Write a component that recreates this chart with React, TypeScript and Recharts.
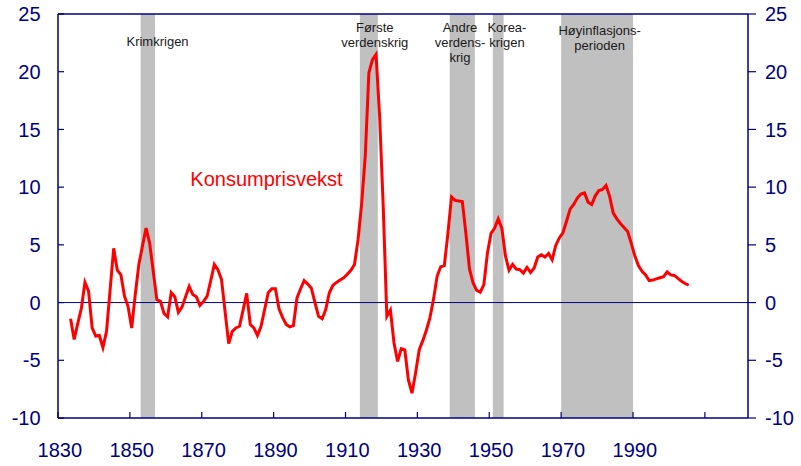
import React from 'react';
import { LineChart, Line, XAxis, YAxis, ReferenceArea, ReferenceLine, ReferenceDot } from 'recharts';

// Annual consumer price growth (%), Norway
const firstYear = 1833;
const inflation = [
  -1.4, -3.2, -1.8, -0.5, 1.75, 1.0, -2.2, -2.9, -2.85, -3.9, // 1833-1842
  -2.5, 1.1, 4.7, 2.8, 2.4, 0.55, -0.35, -2.2, 0.7, 3.3, // 1843-1852
  4.9, 6.45, 5.15, 2.7, 0.25, 0.1, -0.95, -1.25, 0.85, 0.5, // 1853-1862
  -0.85, -0.4, 0.5, 1.4, 0.7, 0.5, -0.25, 0.1, 0.55, 1.9, // 1863-1872
  3.3, 2.85, 2.0, -0.8, -3.55, -2.5, -2.2, -2.05, -0.65, 0.8, // 1873-1882
  -1.9, -2.2, -2.85, -2.05, -0.6, 0.85, 1.2, 1.2, -0.55, -1.3, // 1883-1892
  -1.9, -2.1, -2.0, 0.4, 1.2, 1.9, 1.6, 1.25, 0.0, -1.2, // 1893-1902
  -1.4, -0.6, 0.85, 1.5, 1.75, 1.95, 2.15, 2.45, 2.8, 3.3, // 1903-1912
  5.45, 8.6, 12.7, 19.9, 21.05, 21.5, 16.1, 8.3, -1.2, -0.65, // 1913-1922
  -3.5, -5.1, -4.0, -4.1, -6.7, -7.85, -6.1, -4.1, -3.3, -2.4, // 1923-1932
  -1.3, 0.3, 2.3, 3.1, 3.2, 6.0, 9.15, 8.85, 8.8, 8.75, // 1933-1942
  6.0, 2.9, 1.7, 1.05, 0.9, 1.55, 4.3, 6.0, 6.45, 7.25, // 1943-1952
  6.45, 4.05, 2.8, 3.3, 2.9, 2.85, 2.55, 3.05, 2.6, 3.0, // 1953-1962
  3.95, 4.15, 3.95, 4.25, 3.7, 4.95, 5.6, 6.05, 7.05, 8.1, // 1963-1972
  8.5, 9.05, 9.4, 9.5, 8.7, 8.5, 9.25, 9.7, 9.8, 10.15, // 1973-1982
  9.2, 7.75, 7.25, 6.85, 6.5, 6.15, 5.15, 4.05, 3.2, 2.7, // 1983-1992
  2.4, 1.9, 1.95, 2.05, 2.15, 2.25, 2.65, 2.4, 2.35, 2.1, // 1993-2002
  1.85, 1.65, 1.5, // 2003-2005
];
const years = inflation.map((_, i) => firstYear + i);

// Shaded periods (start / end year)
const bandStart = [1853, 1914, 1939, 1951, 1970];
const bandEnd = [1857, 1919, 1946, 1954, 1990];
const bandLabels = [
  ['Krimkrigen'],
  ['Første', 'verdenskrig'],
  ['Andre', 'verdens-', 'krig'],
  ['Korea-', 'krigen'],
  ['Høyinflasjons-', 'perioden'],
];

const xTicks = [1830, 1850, 1870, 1890, 1910, 1930, 1950, 1970, 1990, 2010];
const xTickLabels = ['1830', '1850', '1870', '1890', '1910', '1930', '1950', '1970', '1990', ''];
const yTicks = [-10, -5, 0, 5, 10, 15, 20, 25];
const seriesLabel = 'Konsumprisvekst';
const seriesLabelYear = 1888;
const seriesLabelValue = 10.13;

// styles
const NAVY = '#000080';
const FONT = '"Liberation Sans", Arial, Helvetica, sans-serif';
const bandLabelDx = [9.7, 5.9, -2.3, 8.7, 2.6];
const bandLabelTop = [31.7, 18.2, 18.2, 18.2, 20.8];

// points sit in the middle of each year's slot
const data = years.map((y, i) => ({ x: y + 0.5, v: inflation[i] }));

const XTick = (props: any) => {
  const { x, y, payload } = props;
  const idx = xTicks.indexOf(payload.value);
  const label = idx >= 0 ? xTickLabels[idx] : '';
  return (
    <text x={x + 1.8} y={y} dy="0.71em" textAnchor="middle" fill={NAVY} fontSize={20} fontFamily={FONT}>
      {label}
    </text>
  );
};

const makeBandLabel = (i: number) => (props: any) => {
  const vb = props.viewBox || {};
  const cx = vb.x + vb.width / 2 + bandLabelDx[i];
  const top = vb.y;
  return (
    <text textAnchor="middle" fill="#1a1a1a" fontSize={13} fontFamily={FONT}>
      {bandLabels[i].map((l, j) => (
        <tspan key={j} x={cx} y={top + bandLabelTop[i] + j * 15}>
          {l}
        </tspan>
      ))}
    </text>
  );
};

const SeriesLabel = (props: any) => {
  const vb = props.viewBox || {};
  const cx = vb.x + (vb.width || 0) / 2;
  const cy = vb.y + (vb.height || 0) / 2;
  return (
    <text x={cx} y={cy} textAnchor="middle" fill="#ff0000" fontSize={20} fontFamily={FONT}>
      {seriesLabel}
    </text>
  );
};

export default function App() {
  return (
    <div style={{ width: 801, height: 466, fontFamily: FONT }}>
      <style>{'html,body{margin:0;padding:0;overflow:hidden}'}</style>
      <LineChart width={801} height={466} data={data} margin={{ top: 14, right: 8, bottom: 8, left: 8 }}>
        <XAxis
          dataKey="x"
          type="number"
          domain={[1830, 2022]}
          ticks={xTicks}
          interval={0}
          height={40}
          tickSize={-6}
          tickMargin={31}
          axisLine={{ stroke: NAVY, strokeWidth: 1.5 }}
          tickLine={{ stroke: NAVY, strokeWidth: 1.2 }}
          tick={<XTick />}
        />
        <YAxis
          yAxisId="left"
          type="number"
          domain={[-10, 25]}
          ticks={yTicks}
          interval={0}
          width={50}
          tickSize={-6}
          tickMargin={23.4}
          axisLine={{ stroke: NAVY, strokeWidth: 1.5 }}
          tickLine={{ stroke: NAVY, strokeWidth: 1.2 }}
          tick={{ fill: NAVY, fontSize: 20, fontFamily: FONT }}
        />
        <YAxis
          yAxisId="right"
          orientation="right"
          type="number"
          domain={[-10, 25]}
          ticks={yTicks}
          interval={0}
          width={45}
          tickSize={8}
          tickMargin={9}
          axisLine={{ stroke: NAVY, strokeWidth: 1.5 }}
          tickLine={{ stroke: NAVY, strokeWidth: 1.2 }}
          tick={{ fill: NAVY, fontSize: 20, fontFamily: FONT }}
        />
        {bandStart.map((s, i) => (
          <ReferenceArea
            key={i}
            yAxisId="left"
            x1={s}
            x2={bandEnd[i]}
            y1={-10}
            y2={25}
            fill="#c0c0c0"
            fillOpacity={1}
            stroke="none"
            label={makeBandLabel(i)}
          />
        ))}
        <ReferenceLine yAxisId="left" y={0} stroke={NAVY} strokeWidth={1} />
        <ReferenceLine yAxisId="right" y={25} stroke={NAVY} strokeWidth={1.5} />
        <Line
          yAxisId="right"
          type="linear"
          dataKey="v"
          stroke="none"
          strokeWidth={0}
          dot={false}
          activeDot={false}
          legendType="none"
          isAnimationActive={false}
        />
        <Line
          yAxisId="left"
          type="linear"
          dataKey="v"
          stroke="#ff0000"
          strokeWidth={3}
          dot={false}
          activeDot={false}
          isAnimationActive={false}
        />
        <ReferenceDot
          yAxisId="left"
          x={seriesLabelYear}
          y={seriesLabelValue}
          r={0}
          fill="none"
          stroke="none"
          label={<SeriesLabel />}
        />
      </LineChart>
    </div>
  );
}
